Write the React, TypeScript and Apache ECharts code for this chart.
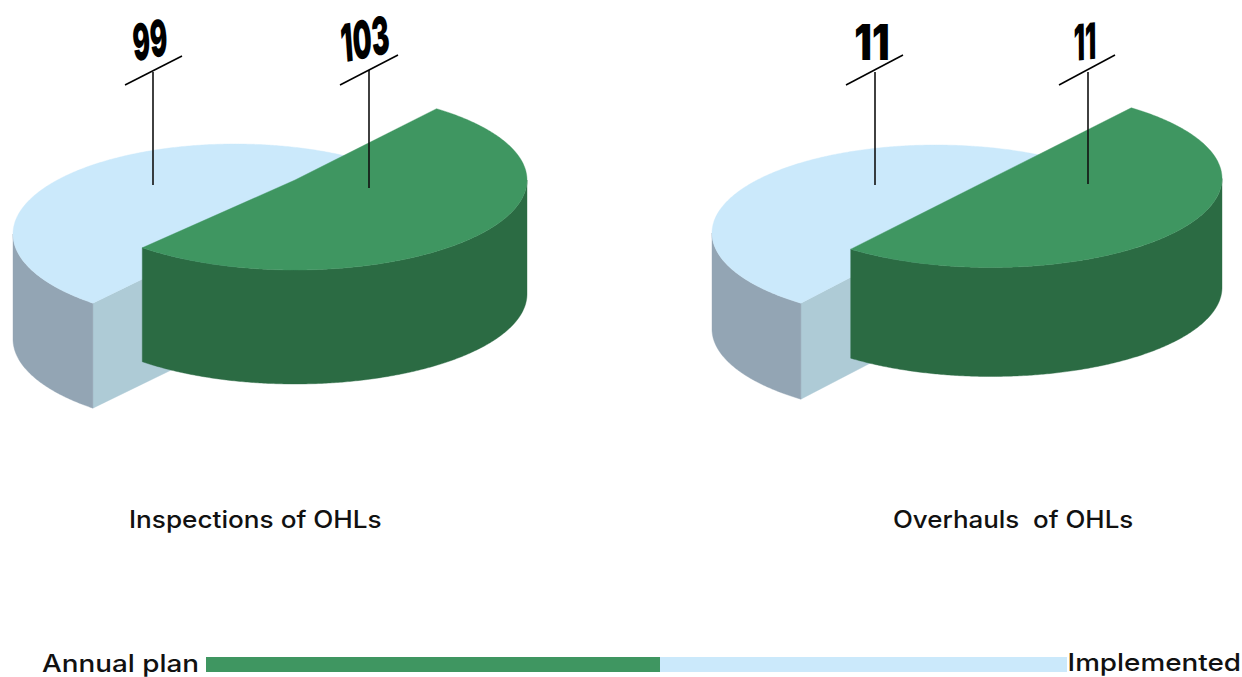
import React, { useEffect, useRef } from "react";
import * as echarts from "echarts";

const planValues = [103, 11];
const implementedValues = [99, 11];
const chartTitles = ["Inspections of OHLs", "Overhauls  of OHLs"];
const legendLabels = ["Annual plan", "Implemented"];

const GREEN_TOP = "#3f9661";
const GREEN_SIDE = "#2b6b43";
const BLUE_TOP = "#cbe9fb";
const BLUE_ARC = "#93a5b4";
const BLUE_CUT = "#aecbd6";

// Layout of each pie: centres, radii, extrusion depth, and the start angle of the slice.
const pies = [
  {
    plan: { cx: 295, cy: 180, rx: 232, ry: 90, depth: 114, start: -52.4 },
    done: { cx: 235, cy: 234, rx: 222, ry: 90, depth: 105, start: 129.8 },
    planLabel: { x: 365, y: 39, rot: 12, sx: 0.52, sy: 1, skew: -0.14, size: 52 },
    doneLabel: { x: 150, y: 40, rot: 12, sx: 0.52, sy: 1, skew: -0.14, size: 50 },
    planLead: { x: 369, top: 70, bottom: 188, x1: 340, y1: 85, x2: 398, y2: 55 },
    doneLead: { x: 153, top: 72, bottom: 185, x1: 125, y1: 85, x2: 182, y2: 56 },
  },
  {
    plan: { cx: 991, cy: 178.5, rx: 231, ry: 89, depth: 109, start: -52.6 },
    done: { cx: 936, cy: 233, rx: 224, ry: 88, depth: 96, start: 127.1 },
    planLabel: { x: 1085, y: 42, rot: 6, sx: 0.5, sy: 1, skew: -0.1, size: 50 },
    doneLabel: { x: 872, y: 42, rot: 0, sx: 0.78, sy: 1, skew: 0, size: 50 },
    planLead: { x: 1088, top: 72, bottom: 184, x1: 1059, y1: 85, x2: 1115, y2: 55 },
    doneLead: { x: 875, top: 72, bottom: 185, x1: 846, y1: 85, x2: 903, y2: 55 },
  },
];

const arcPoints = (g: any, from: number, to: number, dy = 0) => {
  const pts: number[][] = [];
  const steps = Math.max(2, Math.ceil(Math.abs(to - from) * 2));
  for (let i = 0; i <= steps; i++) {
    const a = ((from + ((to - from) * i) / steps) * Math.PI) / 180;
    pts.push([g.cx + g.rx * Math.cos(a), g.cy + g.ry * Math.sin(a) + dy]);
  }
  return pts;
};

const poly = (points: number[][], fill: string) => ({
  type: "polygon",
  shape: { points },
  style: { fill, stroke: fill, lineWidth: 0.4 },
  silent: true,
});

const leader = (l: any) => [
  { type: "line", shape: { x1: l.x, y1: l.top, x2: l.x, y2: l.bottom }, style: { stroke: "#111", lineWidth: 1.6 } },
  { type: "line", shape: { x1: l.x1, y1: l.y1, x2: l.x2, y2: l.y2 }, style: { stroke: "#000", lineWidth: 1.5 } },
];

const numberLabel = (value: number, t: any) => ({
  type: "text",
  x: t.x,
  y: t.y,
  rotation: (t.rot * Math.PI) / 180,
  scaleX: t.sx,
  scaleY: t.sy,
  skewX: t.skew,
  style: {
    text: String(value),
    fill: "#000",
    align: "center",
    verticalAlign: "middle",
    font: `900 ${t.size}px "Inter"`,
  },
});

const renderPie = (params: any, api: any) => {
  const pie = pies[params.dataIndex];
  const planV = api.value(0);
  const doneV = api.value(1);
  const total = planV + doneV;
  const planSweep = (360 * planV) / total;
  const doneSweep = (360 * doneV) / total;
  const p = pie.plan;
  const d = pie.done;
  const pEnd = p.start + planSweep;
  const dEnd = d.start + doneSweep;

  const dTop = [[d.cx, d.cy], ...arcPoints(d, d.start, dEnd)];
  const dCorner = arcPoints(d, d.start, d.start)[0];
  const dCut = [dCorner, [d.cx, d.cy], [d.cx, d.cy + d.depth], [dCorner[0], dCorner[1] + d.depth]];
  const dArcTop = arcPoints(d, d.start, 180);
  const dArc = [...dArcTop, ...arcPoints(d, 180, d.start, d.depth)];

  const pTop = [[p.cx, p.cy], ...arcPoints(p, p.start, pEnd)];
  const pArcTop = arcPoints(p, 0, pEnd);
  const pArc = [...pArcTop, ...arcPoints(p, pEnd, 0, p.depth)];

  return {
    type: "group",
    children: [
      poly(dCut, BLUE_CUT),
      poly(dArc, BLUE_ARC),
      poly(dTop, BLUE_TOP),
      poly(pArc, GREEN_SIDE),
      poly(pTop, GREEN_TOP),
      ...leader(pie.doneLead),
      ...leader(pie.planLead),
      numberLabel(doneV, pie.doneLabel),
      numberLabel(planV, pie.planLabel),
    ],
  };
};

const TEXT_FONT = '500 24px "Inter"';

export default function App() {
  const ref = useRef<HTMLDivElement>(null);
  useEffect(() => {
    document.body.style.margin = "0";
    const chart = echarts.init(ref.current!, undefined, { renderer: "svg" });
    chart.setOption({
      animation: false,
      backgroundColor: "#ffffff",
      series: [
        {
          type: "custom",
          coordinateSystem: "none",
          silent: true,
          renderItem: renderPie,
          data: planValues.map((v, i) => [v, implementedValues[i]]),
        },
      ],
      graphic: [
        { type: "text", x: 129, y: 519, scaleX: 1.09, style: { text: chartTitles[0], font: TEXT_FONT, fill: "#111", verticalAlign: "middle" } },
        { type: "text", x: 893, y: 519, scaleX: 1.08, style: { text: chartTitles[1], font: TEXT_FONT, fill: "#111", verticalAlign: "middle" } },
        { type: "text", x: 42, y: 663, scaleX: 1.16, style: { text: legendLabels[0], font: TEXT_FONT, fill: "#111", verticalAlign: "middle" } },
        { type: "text", x: 1241, y: 662, scaleX: 1.16, style: { text: legendLabels[1], font: TEXT_FONT, fill: "#111", align: "right", verticalAlign: "middle" } },
        { type: "rect", shape: { x: 206, y: 657, width: 454, height: 15 }, style: { fill: GREEN_TOP } },
        { type: "rect", shape: { x: 660, y: 657, width: 407, height: 15 }, style: { fill: BLUE_TOP } },
      ],
    });
    return () => chart.dispose();
  }, []);
  return <div ref={ref} style={{ position: "fixed", left: 0, top: 0, width: 1242, height: 677 }} />;
}
